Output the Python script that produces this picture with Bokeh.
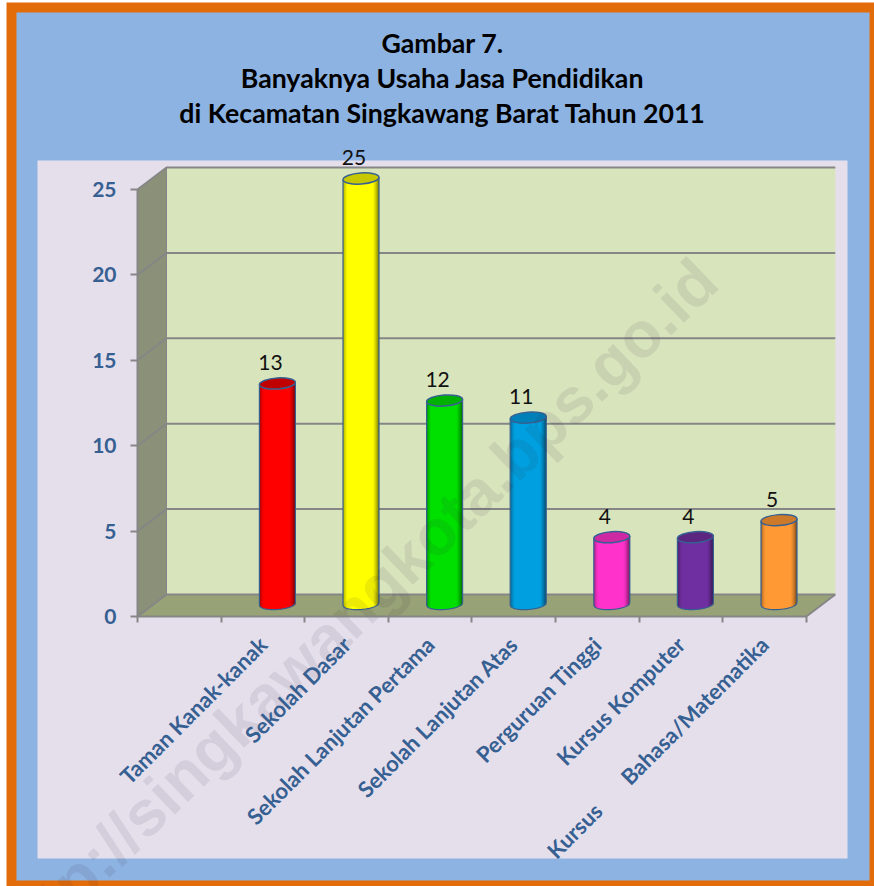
from math import pi
import numpy as np
from bokeh.plotting import figure
from bokeh.models import LinearAxis, FixedTicker
from bokeh.core.properties import value
from bokeh.embed import file_html
from bokeh.resources import INLINE

# ---- data -------------------------------------------------------------
title_lines = ["Gambar 7.", "Banyaknya Usaha Jasa Pendidikan",
               "di Kecamatan Singkawang Barat Tahun 2011"]
categories = ["Taman Kanak-kanak", "Sekolah Dasar", "Sekolah Lanjutan Pertama",
              "Sekolah Lanjutan Atas", "Perguruan Tinggi", "Kursus Komputer",
              "Kursus" + "\u00a0" * 7 + "Bahasa/Matematika"]
values = [13, 25, 12, 11, 4, 4, 5]
y_ticks = [0, 5, 10, 15, 20, 25]
bar_colors = ["#FF0000", "#FFFF00", "#00E000", "#00A0E0", "#FF33CC", "#7030A0", "#FF9933"]
top_colors = ["#C00000", "#C8C800", "#00B000", "#0080B8", "#CC29A3", "#5A2680", "#CC7A29"]
watermark = "http://singkawangkota.bps.go.id"

# ---- geometry (reference pixels) ---------------------------------------
X0, XU = 137.0, 83.6      # x pixel of category edge 0, pixels per category
Y0, YU = 616.0, 17.08     # y pixel of value 0, pixels per unit
DX, DY = 29.0, 22.0       # 3-D depth
L, R, T, B = 0, 874, 0, 886  # figure window in reference pixels

def fx(px): return (np.asarray(px, float) - X0) / XU
def fy(py): return (Y0 - np.asarray(py, float)) / YU

p = figure(width=R - L, height=B - T, output_backend="svg", toolbar_location=None,
           x_range=(float(fx(L)), float(fx(R))), y_range=(float(fy(B)), float(fy(T))),
           x_axis_location=None, y_axis_location=None, min_border=0)
p.grid.visible = False
p.outline_line_color = None
p.background_fill_color = "#FFFFFF"
p.border_fill_color = None

def box(x1, x2, y1, y2, color):
    p.quad(left=[float(fx(x1))], right=[float(fx(x2))], top=[float(fy(y1))], bottom=[float(fy(y2))],
           fill_color=color, fill_alpha=1, line_color=None)

# frame and panels
box(6, 874, 2, 886, "#E36C0A")
box(16, 869, 12, 880, "#8DB3E2")
box(37, 847, 160, 858, "#E5DFEC")

GRID = "#868686"
top_v = y_ticks[-1]
dxu, dyu = DX / XU, DY / YU
n_cat = len(categories) + 1

# walls and floor
p.patch([dxu, n_cat + dxu, n_cat + dxu, dxu], [dyu, dyu, top_v + dyu, top_v + dyu],
        fill_color="#D8E4BC", fill_alpha=1, line_color=None)
p.patch([0, dxu, dxu, 0], [0, dyu, top_v + dyu, top_v], fill_color="#8A9178", fill_alpha=1, line_color=None)
p.patch([0, n_cat, n_cat + dxu, dxu], [0, 0, dyu, dyu], fill_color="#97A276", fill_alpha=1, line_color=None)

# grid lines on back and side wall
for v in y_ticks:
    p.line([0, dxu, n_cat + dxu], [v, v + dyu, v + dyu], line_color=GRID, line_width=2)
p.line([dxu, dxu], [dyu, top_v + dyu], line_color=GRID, line_width=1)
p.line([n_cat, n_cat + dxu], [0, dyu], line_color=GRID, line_width=2)

# cylinders
HALF_W, HALF_H, TILT = 18.0, 5.5, 0.07
N = 36
ts = np.linspace(-1, 1, N + 1)
tc = (ts[:-1] + ts[1:]) / 2

def shade(col, t):
    r, g, b = int(col[1:3], 16), int(col[3:5], 16), int(col[5:7], 16)
    k = 1.0 if abs(t + 0.05) < 0.68 else 1.0 - 0.55 * ((abs(t + 0.05) - 0.68) / 0.37) ** 1.5
    k = max(k, 0.45)
    return "#%02X%02X%02X" % (int(r * k), int(g * k), int(b * k))

for i, (v, c, tcol) in enumerate(zip(values, bar_colors, top_colors)):
    cx = i + 1.5 + dxu / 2
    base = dyu / 2 + 1.5 / YU
    top = v + dyu / 2
    px_w = HALF_W / XU
    lefts = cx + ts[:-1] * px_w
    # each strip runs under the next one, so no seams show between them
    rights = np.minimum(cx + ts[1:] * px_w + 2 * px_w / N, cx + px_w)
    bottoms = base + (TILT * HALF_W * tc - HALF_H * np.sqrt(1 - tc ** 2)) / YU
    tops = top + (TILT * HALF_W * tc) / YU
    p.quad(left=lefts, right=rights, bottom=bottoms, top=tops,
           fill_color=[shade(c, t) for t in tc], fill_alpha=1, line_color=None)
    tt = np.linspace(-1, 1, 41)
    xs = cx + tt * px_w
    ys = base + (TILT * HALF_W * tt - HALF_H * np.sqrt(1 - tt ** 2)) / YU
    p.line(xs, ys, line_color="#376092", line_width=1.2)
    p.line([cx - px_w, cx - px_w], [base - TILT * HALF_W / YU, top - TILT * HALF_W / YU],
           line_color="#376092", line_width=1.2)
    p.line([cx + px_w, cx + px_w], [base + TILT * HALF_W / YU, top + TILT * HALF_W / YU],
           line_color="#376092", line_width=1.2)
    p.ellipse(x=[cx], y=[top], width=[2 * px_w], height=[2 * HALF_H / YU], angle=[np.arctan(TILT)],
              fill_color=tcol, fill_alpha=1, line_color="#376092", line_width=1.5)

# value labels
lab_x = [i + 1.5 + (dxu / 2) - 7 / XU for i in range(len(values))]
lab_y = [v + dyu / 2 + 21 / YU for v in values]
p.text(lab_x, lab_y, text=[str(v) for v in values], text_font=value("Lato"),
       text_font_size="21px", text_color="#111111", text_align="center", text_baseline="middle")

# title
for line, py in zip(title_lines, [42, 77, 112]):
    p.text([float(fx(442))], [float(fy(py))], text=[line], text_font=value("Lato"),
           text_font_style="bold", text_font_size="26.7px", text_color="#000000",
           text_align="center", text_baseline="middle")

# watermark
p.text([float(fx(706))], [float(fy(270))], text=[watermark], angle=[44 * pi / 180],
       text_font=value("Liberation Sans"), text_font_style="bold", text_font_size="64px",
       text_color="#30203A", text_alpha=0.09, text_align="right", text_baseline="middle")

# axes
LBL = "#366092"
yax = LinearAxis(fixed_location=0, ticker=FixedTicker(ticks=y_ticks), bounds=(0, top_v))
yax.axis_line_color = GRID; yax.axis_line_width = 2
yax.major_tick_line_color = GRID; yax.major_tick_line_width = 2
yax.major_tick_in = 0; yax.major_tick_out = 7
yax.minor_tick_line_color = None
yax.major_label_standoff = 14
yax.major_label_text_font = "Lato"; yax.major_label_text_font_style = "bold"
yax.major_label_text_font_size = "21px"; yax.major_label_text_color = LBL
p.add_layout(yax, "left")

edges = list(range(n_cat + 1))
xax = LinearAxis(fixed_location=0, ticker=FixedTicker(ticks=edges), bounds=(0, n_cat))
xax.axis_line_color = GRID; xax.axis_line_width = 2
xax.major_tick_line_color = GRID; xax.major_tick_line_width = 2
xax.major_tick_in = 0; xax.major_tick_out = 6
xax.minor_tick_line_color = None
xax.major_label_text_color = None
p.add_layout(xax, "below")

centers = [i + 1.5 for i in range(len(categories))]
cax = LinearAxis(fixed_location=0, ticker=FixedTicker(ticks=centers),
                 major_label_overrides={c: t for c, t in zip(centers, categories)})
cax.axis_line_color = None
cax.major_tick_line_color = None
cax.minor_tick_line_color = None
cax.major_tick_in = 0; cax.major_tick_out = 0
cax.major_label_standoff = 24
cax.major_label_orientation = pi / 4
cax.major_label_text_font = "Lato"; cax.major_label_text_font_style = "bold"
cax.major_label_text_font_size = "22px"; cax.major_label_text_color = LBL
p.add_layout(cax, "below")

open("out.html", "w").write(file_html(p, INLINE))
